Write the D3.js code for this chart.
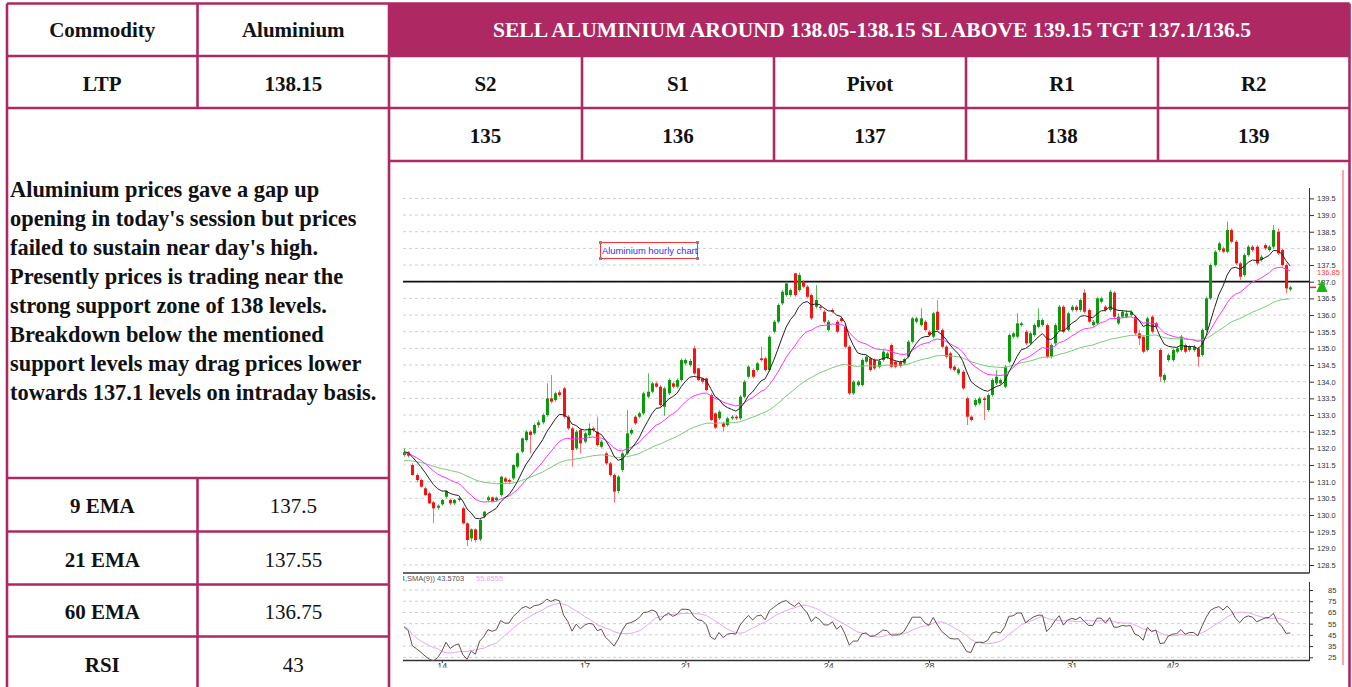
<!DOCTYPE html>
<html><head><meta charset="utf-8">
<script src="https://cdn.jsdelivr.net/npm/d3@7"></script>
<style>
html,body{margin:0;padding:0;background:#fff;overflow:hidden;}
svg{display:block;}
</style></head><body>
<svg id="c" width="1352" height="687"></svg>
<script>
// ---------------- DATA ----------------
const headerLabels = ["Commodity", "Aluminium"];
const headline = "SELL ALUMINIUM AROUND 138.05-138.15 SL ABOVE 139.15 TGT 137.1/136.5";
const ltpRow = ["LTP", "138.15"];
const levelNames = ["S2", "S1", "Pivot", "R1", "R2"];
const levelValues = ["135", "136", "137", "138", "139"];
const commentary = [
  "Aluminium prices gave a gap up",
  "opening in today's session but prices",
  "failed to sustain near day's high.",
  "Presently prices is trading near the",
  "strong support zone of 138 levels.",
  "Breakdown below the mentioned",
  "support levels may drag prices lower",
  "towards 137.1 levels on intraday basis."
];
const indicatorNames = ["9 EMA", "21 EMA", "60 EMA", "RSI"];
const indicatorValues = ["137.5", "137.55", "136.75", "43"];

const opens = [131.80,131.88,131.50,131.20,131.05,130.80,130.65,130.38,130.22,130.32,
130.55,130.45,130.35,130.45,130.20,129.75,129.30,129.57,129.27,129.95,
130.45,130.53,130.45,130.60,131.10,131.05,131.10,131.45,131.90,132.25,
132.50,132.45,132.70,132.78,133.00,133.50,133.45,133.68,133.80,132.95,
132.60,132.00,132.55,132.20,132.40,132.60,132.50,132.05,131.85,131.55,
131.20,130.72,131.35,131.85,132.45,132.95,132.95,133.05,133.55,133.70,
133.95,133.85,133.25,133.65,133.95,133.85,134.05,134.55,134.50,135.00,
134.40,134.10,134.10,133.60,133.05,132.90,132.75,132.70,132.90,132.95,
132.90,133.55,134.15,134.35,134.35,134.70,134.70,134.35,135.50,135.80,
136.35,136.60,136.60,137.25,136.75,137.00,136.85,136.60,136.25,136.25,
136.10,135.55,136.15,135.80,135.90,135.65,135.05,133.65,133.90,133.90,
134.60,134.70,134.65,134.45,134.65,134.72,135.10,134.60,134.60,134.55,
134.75,135.20,135.80,135.70,135.80,135.50,135.35,136.10,135.55,135.05,
134.85,134.45,134.25,134.30,133.50,132.95,133.30,133.35,133.50,133.15,
133.60,133.95,133.95,133.85,134.60,135.35,135.35,135.70,135.50,135.15,
135.40,135.65,135.70,135.70,134.75,135.15,135.55,136.25,135.55,136.15,
136.25,136.15,136.67,136.15,135.70,135.75,136.40,136.25,136.15,136.67,
135.75,135.95,135.95,136.00,135.95,135.45,135.35,134.95,135.95,135.75,
134.95,134.05,134.65,134.65,134.90,134.95,135.10,134.95,134.95,135.00,
134.80,135.55,136.50,137.50,137.95,138.00,137.90,138.55,138.20,137.55,
137.20,137.80,138.05,138.05,137.65,138.10,137.95,138.05,138.50,137.95,
137.50,136.77];
const highs = [132.00,131.92,131.55,131.25,131.10,130.85,130.70,130.42,130.32,130.48,
130.75,130.50,130.48,130.55,130.25,129.78,129.60,129.60,129.90,130.12,
130.58,130.56,130.55,131.18,131.15,131.10,131.52,131.88,132.32,132.55,
132.55,132.75,132.85,133.05,133.95,134.20,133.70,133.75,133.85,133.00,
132.65,132.55,132.60,132.50,132.75,132.65,132.95,132.25,131.90,131.60,
131.25,131.20,131.90,133.15,132.60,133.00,133.10,133.70,134.25,134.00,
134.00,133.90,133.85,134.10,134.00,134.10,134.70,134.70,134.68,135.07,
134.42,134.12,134.12,133.65,133.08,133.15,132.80,132.95,133.00,133.00,
133.60,134.05,134.50,134.40,134.60,135.05,134.75,135.40,135.85,136.35,
136.75,137.00,136.80,137.27,137.27,137.05,136.90,136.65,136.90,136.30,
136.15,135.85,136.20,135.85,135.95,135.70,135.10,134.05,134.05,134.70,
134.80,134.75,134.70,134.68,134.95,134.90,135.15,134.65,134.63,134.72,
135.25,135.95,135.95,136.20,135.85,135.55,136.10,136.45,135.60,135.10,
134.90,134.50,134.42,134.35,133.55,133.00,133.50,133.55,133.55,133.65,
134.10,134.35,134.10,134.50,135.45,135.50,136.05,135.80,135.55,135.50,
135.75,136.20,135.90,135.75,135.15,135.75,136.30,136.30,136.10,136.30,
136.30,136.50,136.78,136.20,135.85,136.55,136.55,136.30,136.75,136.72,
136.05,136.15,136.15,136.15,136.00,135.55,135.40,135.95,136.00,135.80,
135.00,134.25,134.85,135.00,135.05,135.40,135.15,135.10,135.10,135.05,
135.60,136.55,137.55,137.95,138.20,138.05,138.80,138.60,138.25,137.60,
137.85,138.10,138.10,138.10,137.80,138.15,138.10,138.70,138.60,138.00,
137.55,136.88];
const lows = [131.75,131.72,131.18,130.98,130.82,130.58,130.33,129.75,130.15,130.28,
130.50,130.30,130.30,130.40,129.72,129.07,129.20,129.18,129.22,129.90,
130.40,130.38,130.40,130.55,130.95,130.92,131.05,131.40,131.85,132.20,
131.85,132.40,132.62,132.72,132.95,133.35,133.40,133.55,132.90,132.55,
131.45,131.95,131.85,132.15,132.35,132.50,132.05,132.00,131.50,131.15,
130.37,130.65,131.30,131.80,132.40,132.70,132.90,133.00,133.50,133.65,
133.82,133.25,132.97,133.60,133.80,133.80,134.00,134.50,134.45,134.20,
134.02,133.95,133.72,132.82,132.58,132.85,132.50,132.65,132.85,132.85,
132.85,133.50,134.10,134.10,134.30,134.60,134.30,134.30,135.45,135.75,
136.30,136.55,136.55,136.55,136.70,136.80,136.50,135.85,136.20,136.15,
135.75,135.50,136.05,135.45,135.78,135.00,133.60,133.60,133.85,133.85,
134.55,134.30,134.35,134.40,134.60,134.68,134.40,134.40,134.42,134.50,
134.70,135.15,135.75,135.65,135.50,135.35,135.30,135.50,135.00,134.70,
134.35,134.30,134.20,133.75,132.70,132.80,133.25,133.30,132.85,133.10,
133.55,133.90,133.90,133.80,134.55,135.30,135.30,135.65,135.10,135.10,
135.35,135.60,135.65,134.70,134.70,135.10,135.50,135.45,135.50,136.10,
136.10,136.10,136.05,135.75,135.65,135.70,136.35,136.10,136.10,135.90,
135.70,135.90,135.90,135.95,135.40,135.10,134.85,134.90,135.45,135.60,
134.00,133.97,134.60,134.60,134.85,134.90,134.85,134.90,134.90,134.45,
134.75,135.50,136.45,137.45,137.90,137.85,137.85,138.15,137.50,137.05,
137.15,137.75,137.90,137.50,137.60,137.95,137.90,138.00,137.80,137.45,
136.65,136.72];
const closes = [131.88,131.78,131.20,131.05,130.85,130.60,130.35,130.20,130.28,130.45,
130.72,130.35,130.45,130.50,129.75,129.25,129.57,129.25,129.85,130.10,
130.53,130.42,130.52,131.15,131.00,131.00,131.50,131.85,132.30,132.50,
132.40,132.70,132.78,133.00,133.50,133.40,133.65,133.60,132.95,132.60,
131.95,132.50,132.15,132.45,132.60,132.55,132.10,132.20,131.55,131.20,
130.70,131.15,131.85,132.45,132.55,132.75,133.05,133.65,133.70,133.95,
133.85,133.30,133.80,134.05,133.85,134.05,134.65,134.65,134.62,134.25,
134.05,134.00,133.75,132.85,132.62,133.10,132.65,132.90,132.95,132.90,
133.55,134.00,134.45,134.15,134.55,134.65,134.35,135.35,135.80,136.30,
136.70,136.95,136.75,136.60,137.20,136.85,136.55,135.90,136.45,136.22,
135.80,135.80,136.10,135.50,135.82,135.05,133.65,134.00,134.00,134.65,
134.75,134.35,134.40,134.62,134.90,134.85,134.45,134.45,134.47,134.68,
135.20,135.90,135.90,135.90,135.55,135.40,136.05,135.55,135.05,134.75,
134.40,134.35,134.37,133.80,132.95,132.85,133.45,133.50,133.45,133.60,
134.05,134.15,134.05,134.45,135.40,135.45,135.75,135.75,135.15,135.45,
135.70,135.85,135.85,134.75,135.10,135.70,136.25,135.50,136.05,136.25,
136.15,136.45,136.10,135.80,135.80,136.50,136.50,136.15,136.70,135.95,
135.95,136.10,136.05,136.10,135.45,135.30,134.90,135.90,135.50,135.65,
134.15,134.20,134.80,134.95,135.00,135.35,134.90,135.05,135.05,134.75,
135.55,136.50,137.50,137.90,138.15,137.90,138.55,138.20,137.55,137.15,
137.80,138.05,137.95,137.55,137.75,138.00,138.05,138.55,137.85,137.50,
136.80,136.83];

const priceTicks = [128.5,129.0,129.5,130.0,130.5,131.0,131.5,132.0,132.5,133.0,133.5,134.0,134.5,135.0,135.5,136.0,136.5,137.0,137.5,138.0,138.5,139.0,139.5];
const rsiTicks = [25,35,45,55,65,75,85];
const dateLabels = ["14","17","21","24","28","31","4/2"];
const dateLabelIdx = [9,43,67,101,125,159,183];
const supportLevel = 137.0;
const emaPeriods = [9,21,60];
const emaSeeds = [131.9,131.85,131.62];
const rsiPeriod = 14, rsiSmaPeriod = 9;
const rsiSeedGain = 0.06, rsiSeedLoss = 0.055;
const rsiLegendValues = ["43.5703","55.8555"];
const lastPriceLabel = "136.85";
const chartNote = "Aluminium hourly chart";

// ---------------- DRAW ----------------
const MAG = "#ae2863";
const svg = d3.select("#c");
const serif = "'Liberation Serif','Times New Roman',serif";
const sans = "'Liberation Sans',Arial,sans-serif";

svg.append("rect").attr("x",389).attr("y",3.5).attr("width",960.5).attr("height",52.5).attr("fill",MAG);

function cellText(txt, cx, by, opts={}) {
  svg.append("text").attr("x",cx).attr("y",by).attr("text-anchor",opts.anchor||"middle")
    .attr("font-family",serif).attr("font-size",opts.size||21)
    .attr("font-weight",opts.weight||"bold").attr("fill",opts.fill||"#111").text(txt);
}
const c1 = 102.25, c2 = 293.25;
const rightCols = [485.5, 678, 870, 1062, 1253.75];
cellText(headerLabels[0], c1, 36.7);
cellText(headerLabels[1], c2, 36.7);
cellText(headline, 872, 36.5, {fill:"#fff", size:21.6});
cellText(ltpRow[0], c1, 90.5);
cellText(ltpRow[1], c2, 90.5);
levelNames.forEach((t,i)=>cellText(t, rightCols[i], 90.5));
levelValues.forEach((t,i)=>cellText(t, rightCols[i], 143));
commentary.forEach((t,i)=>cellText(t, 10, 197 + i*29, {anchor:"start", size:22.4}));
const indBase = [513.3, 566.5, 618.5, 671.5];
indicatorNames.forEach((t,i)=>cellText(t, c1, indBase[i]));
indicatorValues.forEach((t,i)=>cellText(t, c2, indBase[i], {weight:"normal"}));

// ---------------- CHART ----------------
const chart = svg.append("g");
const N = closes.length;
const x = d3.scaleLinear().domain([0, N-1]).range([404, 1290.2]);
const y = d3.scaleLinear().domain([128.5, 139.5]).range([565, 198.4]);
const yR = d3.scaleLinear().domain([25, 85]).range([657.3, 590]);
const axisX = 1309, plotL = 403;

const defs = svg.append("defs");
defs.append("clipPath").attr("id","pclip").append("rect").attr("x",plotL).attr("y",186).attr("width",axisX-plotL).attr("height",573-186);
defs.append("clipPath").attr("id","rclip").append("rect").attr("x",plotL).attr("y",581).attr("width",axisX-plotL).attr("height",80);
defs.append("clipPath").attr("id","lclip").append("rect").attr("x",380).attr("y",661).attr("width",960).attr("height",6.5);
defs.append("clipPath").attr("id","tclip").append("rect").attr("x",403).attr("y",570).attr("width",300).attr("height",20);

chart.append("g").selectAll("line").data(priceTicks).join("line")
  .attr("x1",plotL).attr("x2",axisX).attr("y1",d=>y(d)).attr("y2",d=>y(d))
  .attr("stroke","#cfcfcf").attr("stroke-width",1).attr("stroke-dasharray","3,3");

const pAxis = chart.append("g").attr("transform",`translate(${axisX},0)`)
  .call(d3.axisRight(y).tickValues(priceTicks).tickSize(5).tickPadding(3).tickFormat(d3.format(".1f")));
pAxis.select(".domain").remove();
pAxis.selectAll(".tick line").attr("stroke","#333");
pAxis.selectAll(".tick text").attr("font-family",sans).attr("font-size",7.5).attr("fill","#333");
chart.append("line").attr("x1",axisX+0.5).attr("x2",axisX+0.5).attr("y1",188).attr("y2",573).attr("stroke","#333").attr("stroke-width",1);
chart.append("line").attr("x1",plotL).attr("x2",axisX+0.5).attr("y1",573).attr("y2",573).attr("stroke","#333").attr("stroke-width",1.3);

chart.append("line").attr("x1",plotL).attr("x2",axisX).attr("y1",y(supportLevel)).attr("y2",y(supportLevel))
  .attr("stroke","#111").attr("stroke-width",1.8);

const pg = chart.append("g").attr("clip-path","url(#pclip)");
const up = "#0a9a0a", dn = "#ff1010";
const idx = d3.range(N);
pg.append("g").selectAll("line").data(idx).join("line")
  .attr("x1",i=>Math.round(x(i))+0.5).attr("x2",i=>Math.round(x(i))+0.5)
  .attr("y1",i=>y(highs[i])).attr("y2",i=>y(lows[i]))
  .attr("stroke",i=>closes[i]>=opens[i]?"#55bb55":"#ff7070").attr("stroke-width",1);
pg.append("g").selectAll("rect").data(idx).join("rect")
  .attr("x",i=>Math.round(x(i))-1).attr("width",3)
  .attr("y",i=>y(Math.max(opens[i],closes[i])))
  .attr("height",i=>Math.max(1.2, Math.abs(y(opens[i])-y(closes[i]))))
  .attr("fill",i=>closes[i]>=opens[i]?up:dn);

function ema(period, seed) {
  const a = 2/(period+1); let e = seed;
  return closes.map(c => (e = e + a*(c-e)));
}
const emaColors = ["#222222","#ff33ff","#77cc77"];
const line = d3.line().x((d,i)=>x(i)).y(d=>y(d));
[2,1,0].forEach(k=>{
  pg.append("path").datum(ema(emaPeriods[k], emaSeeds[k])).attr("d",line)
    .attr("fill","none").attr("stroke",emaColors[k]).attr("stroke-width",1);
});

const nb = chart.append("g");
nb.append("rect").attr("x",600.5).attr("y",242.5).attr("width",97).attr("height",16)
  .attr("fill","#fff").attr("stroke","#ff3333").attr("stroke-width",1);
[[600.5,242.5],[697.5,242.5],[600.5,258.5],[697.5,258.5]].forEach(p=>
  nb.append("rect").attr("x",p[0]-1.5).attr("y",p[1]-1.5).attr("width",3).attr("height",3).attr("fill","#888"));
nb.append("text").attr("x",602).attr("y",254.3).attr("font-family",sans).attr("font-size",9.4)
  .attr("fill","#3030ff").text(chartNote);

const lastP = closes[N-1];
chart.append("line").attr("x1",axisX+1).attr("x2",1316).attr("y1",y(lastP)).attr("y2",y(lastP))
  .attr("stroke","#ff2020").attr("stroke-width",1.5);
chart.append("text").attr("x",1317).attr("y",275).attr("font-family",sans).attr("font-size",7.5)
  .attr("fill","#ff4040").text(lastPriceLabel);
chart.append("path").attr("d","M1322,279.5 L1327.5,292 L1316.5,292 Z").attr("fill","#11bb11");

// ---------------- RSI ----------------
const rsi = [];
{
  let ag = rsiSeedGain, al = rsiSeedLoss;
  closes.forEach((c,i)=>{
    if (i>0) {
      const ch = c - closes[i-1];
      ag = (ag*(rsiPeriod-1) + Math.max(ch,0))/rsiPeriod;
      al = (al*(rsiPeriod-1) + Math.max(-ch,0))/rsiPeriod;
    }
    rsi.push(100 - 100/(1+ag/al));
  });
}
const rsiSma = rsi.map((v,i)=>d3.mean(rsi.slice(Math.max(0,i-rsiSmaPeriod+1), i+1)));

chart.append("g").selectAll("line").data(rsiTicks).join("line")
  .attr("x1",plotL).attr("x2",axisX).attr("y1",d=>yR(d)).attr("y2",d=>yR(d))
  .attr("stroke","#cfcfcf").attr("stroke-width",1).attr("stroke-dasharray","3,3");
const rAxis = chart.append("g").attr("transform",`translate(${axisX},0)`)
  .call(d3.axisRight(yR).tickValues(rsiTicks).tickSize(4).tickPadding(15));
rAxis.select(".domain").remove();
rAxis.selectAll(".tick line").attr("stroke","#333");
rAxis.selectAll(".tick text").attr("font-family",sans).attr("font-size",7.5).attr("fill","#333");
chart.append("line").attr("x1",axisX+0.5).attr("x2",axisX+0.5).attr("y1",582).attr("y2",661).attr("stroke","#333");
chart.append("line").attr("x1",plotL).attr("x2",axisX+0.5).attr("y1",660.5).attr("y2",660.5).attr("stroke","#333").attr("stroke-width",1.3);

const rg = chart.append("g").attr("clip-path","url(#rclip)");
const rl = d3.line().x((d,i)=>x(i)).y(d=>yR(d));
rg.append("path").datum(rsiSma).attr("d",rl).attr("fill","none").attr("stroke","#e8a8e8").attr("stroke-width",1);
rg.append("path").datum(rsi).attr("d",rl).attr("fill","none").attr("stroke","#6a4e4e").attr("stroke-width",1);

const tg = chart.append("g").attr("clip-path","url(#tclip)");
tg.append("text").attr("x",405).attr("y",581).attr("text-anchor","end").attr("font-family",sans).attr("font-size",7.5).attr("fill","#555").text("RSI(14");
tg.append("text").attr("x",405).attr("y",581).attr("font-family",sans).attr("font-size",7.5).attr("fill","#555").text(",SMA(9))  " + rsiLegendValues[0]);
tg.append("text").attr("x",476).attr("y",581).attr("font-family",sans).attr("font-size",7.5).attr("fill","#eaa8ea").text(rsiLegendValues[1]);

// date axis, cropped like the reference (clip on an untransformed wrapper)
const dWrap = chart.append("g").attr("clip-path","url(#lclip)");
const dAxis = dWrap.append("g").attr("transform","translate(0,661)")
  .call(d3.axisBottom(x).tickValues(dateLabelIdx).tickSize(2).tickPadding(0).tickFormat((d,i)=>dateLabels[i]));
dAxis.select(".domain").remove();
dAxis.selectAll(".tick line").attr("stroke","#333");
dAxis.selectAll(".tick text").attr("font-family",sans).attr("font-size",9).attr("fill","#333");

chart.append("line").attr("x1",1343).attr("x2",1343).attr("y1",170).attr("y2",665).attr("stroke","#ff8a8a").attr("stroke-width",1.5);

// ---------------- TABLE GRID ----------------
const gl = svg.append("g").attr("stroke",MAG).attr("stroke-width",2.6);
const hLines = [[7,1349.5,3.5],[7,1349.5,56],[7,1349.5,108],[389,1349.5,161],[7,389,478],[7,389,531.5],[7,389,584.5],[7,389,636.5]];
hLines.forEach(l=>gl.append("line").attr("x1",l[0]).attr("x2",l[1]).attr("y1",l[2]).attr("y2",l[2]));
const vLines = [[7,3.5,687],[197.5,3.5,108],[197.5,478,687],[389,3.5,687],[582,56,161],[774,56,161],[966,56,161],[1158,56,161],[1349.5,3.5,687]];
vLines.forEach(l=>gl.append("line").attr("x1",l[0]).attr("x2",l[0]).attr("y1",l[1]).attr("y2",l[2]));
</script>
</body></html>
